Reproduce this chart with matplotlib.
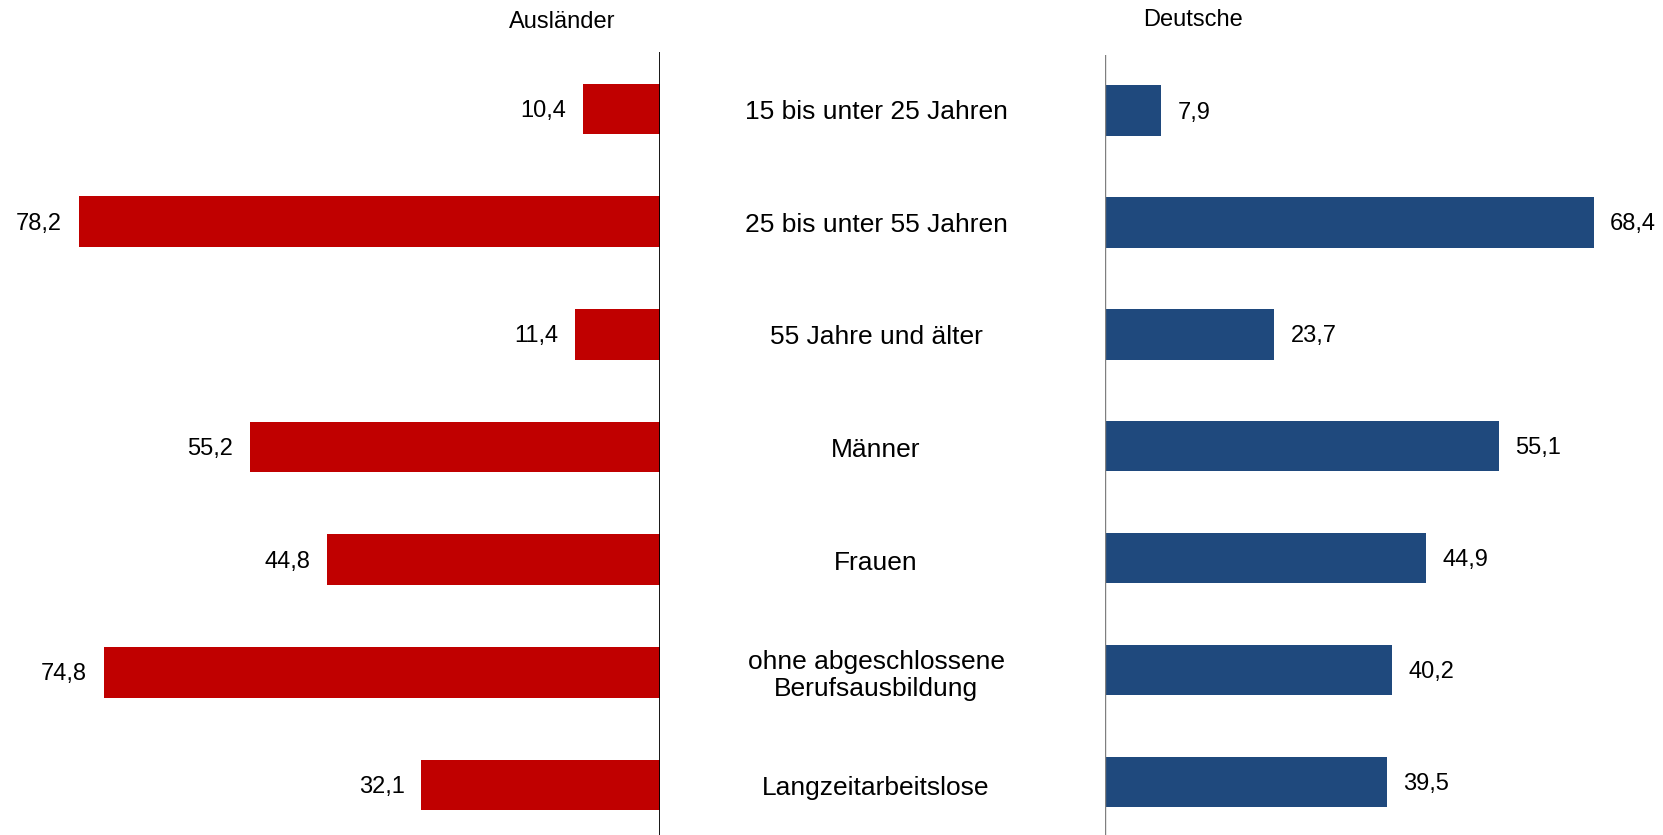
import matplotlib
matplotlib.use("Agg")
import matplotlib.pyplot as plt
from matplotlib.transforms import blended_transform_factory

plt.rcParams['font.family'] = ['Liberation Sans', 'DejaVu Sans']

categories = ["15 bis unter 25 Jahren", "25 bis unter 55 Jahren", "55 Jahre und älter",
              "Männer", "Frauen", "ohne abgeschlossene\nBerufsausbildung", "Langzeitarbeitslose"]
auslaender = [10.4, 78.2, 11.4, 55.2, 44.8, 74.8, 32.1]
deutsche = [7.9, 68.4, 23.7, 55.1, 44.9, 40.2, 39.5]

RED = "#C00000"
BLUE = "#1F497D"

W, H = 1663, 835
fig = plt.figure(figsize=(W / 100, H / 100), dpi=100)

def box(x0, y0, x1, y1):
    # pixel box (top-left origin) -> figure fraction rect
    return [x0 / W, 1 - y1 / H, (x1 - x0) / W, (y1 - y0) / H]

ax_l = fig.add_axes(box(0, 52, 660, 835))
ax_r = fig.add_axes(box(1105, 55, 1663, 835))

ypos = list(range(len(categories)))

ax_l.barh(ypos, auslaender, height=0.45, color=RED)
ax_l.set_xlim(660 / 7.43, 0)
ax_l.set_ylim(6.444, -0.506)

ax_r.barh(ypos, deutsche, height=0.45, color=BLUE)
ax_r.set_xlim(0, 558 / 7.15)
ax_r.set_ylim(6.474, -0.496)

for ax in (ax_l, ax_r):
    for s in ax.spines.values():
        s.set_visible(False)
    ax.set_xticks([])
    ax.set_yticks([])
    ax.patch.set_alpha(0)

ax_l.axvline(0, color="black", lw=2.0)
ax_r.axvline(0, color="#7F7F7F", lw=1.0)

fmt = lambda v: f"{v:.1f}".replace(".", ",")
for y, v in zip(ypos, auslaender):
    ax_l.annotate(fmt(v), (v, y), xytext=(-17, -2), textcoords="offset pixels",
                  ha="right", va="center", fontsize=17)
for y, v in zip(ypos, deutsche):
    ax_r.annotate(fmt(v), (v, y), xytext=(16, -2), textcoords="offset pixels",
                  ha="left", va="center", fontsize=17)

trans = blended_transform_factory(fig.transFigure, ax_l.transData)
for y, c in zip(ypos, categories):
    ax_l.annotate(c, (876 / W, y), xycoords=trans, xytext=(0, -3),
                  textcoords="offset pixels", ha="center", va="center",
                  fontsize=19, linespacing=1.15, annotation_clip=False)

fig.text(562 / W, 1 - 22 / H, "Ausländer", ha="center", va="center", fontsize=17)
fig.text(1193 / W, 1 - 20 / H, "Deutsche", ha="center", va="center", fontsize=17)

fig.savefig("out.png", dpi=100, facecolor="white")
